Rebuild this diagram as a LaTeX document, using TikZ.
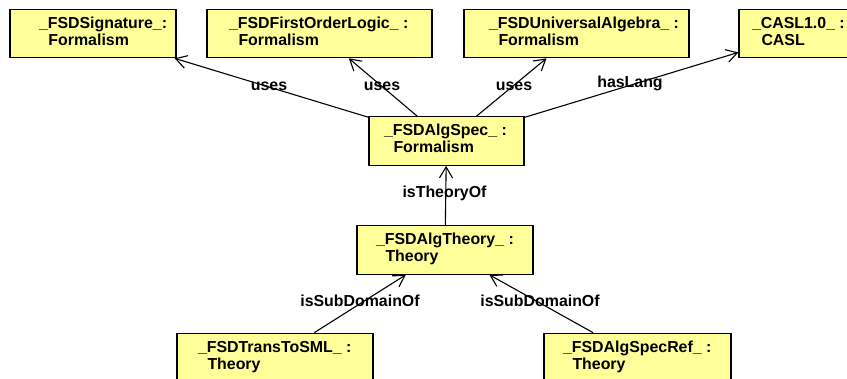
\documentclass[tikz,border=0pt]{standalone}
\usepackage{fontspec}
\setmainfont{Liberation Sans}
\usetikzlibrary{arrows.meta}
\definecolor{boxfill}{RGB}{255,255,153}
% box content: width, left indent, first line, second line
\newcommand{\objtext}[4]{%
  \makebox[#1pt][l]{\hspace*{#2pt}\raisebox{-1.5pt}{\begin{tabular}{@{}l@{}}#3\\\hspace*{9.5pt}#4\end{tabular}}}}
\begin{document}
\begin{tikzpicture}[x=1pt,y=-1pt,
  font=\fontsize{15.9}{17}\selectfont\bfseries,
  objbox/.style={draw=black, line width=1.2pt, fill=boxfill, inner sep=0pt,
    minimum height=48.5pt, anchor=center},
  rel/.style={draw=black, line width=1.1pt, -{Straight Barb[length=11pt,width=13pt]}},
  rellabel/.style={inner sep=0pt, anchor=center}]
\useasboundingbox (0,0) rectangle (847,378);
\clip (0,0) rectangle (847,378);
\fill[white] (0,0) rectangle (847,378);

% instances
\node[objbox] (sig)  at (93,33.5)    {\objtext{166}{29}{\_FSDSignature\_:}{Formalism}};
\node[objbox] (fol)  at (319.5,33.5) {\objtext{225}{22}{\_FSDFirstOrderLogic\_ :}{Formalism}};
\node[objbox] (ua)   at (576.5,33.5) {\objtext{225}{25}{\_FSDUniversalAlgebra\_ :}{Formalism}};
\node[objbox] (casl) at (801,33.5)   {\objtext{124}{13}{\_CASL1.0\_ :}{CASL}};
\node[objbox] (spec) at (446.5,141)  {\objtext{155}{15}{\_FSDAlgSpec\_ :}{Formalism}};
\node[objbox] (theo) at (445,250)    {\objtext{176}{19}{\_FSDAlgTheory\_ :}{Theory}};
\node[objbox] (sml)  at (275,357.5)  {\objtext{196}{21}{\_FSDTransToSML\_ :}{Theory}};
\node[objbox] (ref)  at (637.5,357.5){\objtext{187}{19}{\_FSDAlgSpecRef\_ :}{Theory}};

% links
\draw[rel] (spec) -- (sig);
\draw[rel] (spec) -- (fol);
\draw[rel] (spec) -- (ua);
\draw[rel] (spec) -- (casl);
\draw[rel] (theo) -- (spec);
\draw[rel] (sml) -- (theo);
\draw[rel] (ref) -- (theo);

% link names
\node[rellabel] (u1) at (269,86)    {uses};
\node[rellabel] (u2) at (382,86)    {uses};
\node[rellabel] (u3) at (514,86)    {uses};
\node[rellabel] (hl) at (630,83)    {hasLang};
\node[rellabel] (it) at (444.5,193) {isTheoryOf};
\node[rellabel] (s1) at (360,301)   {isSubDomainOf};
\node[rellabel] (s2) at (540,301)   {isSubDomainOf};
\end{tikzpicture}
\end{document}
